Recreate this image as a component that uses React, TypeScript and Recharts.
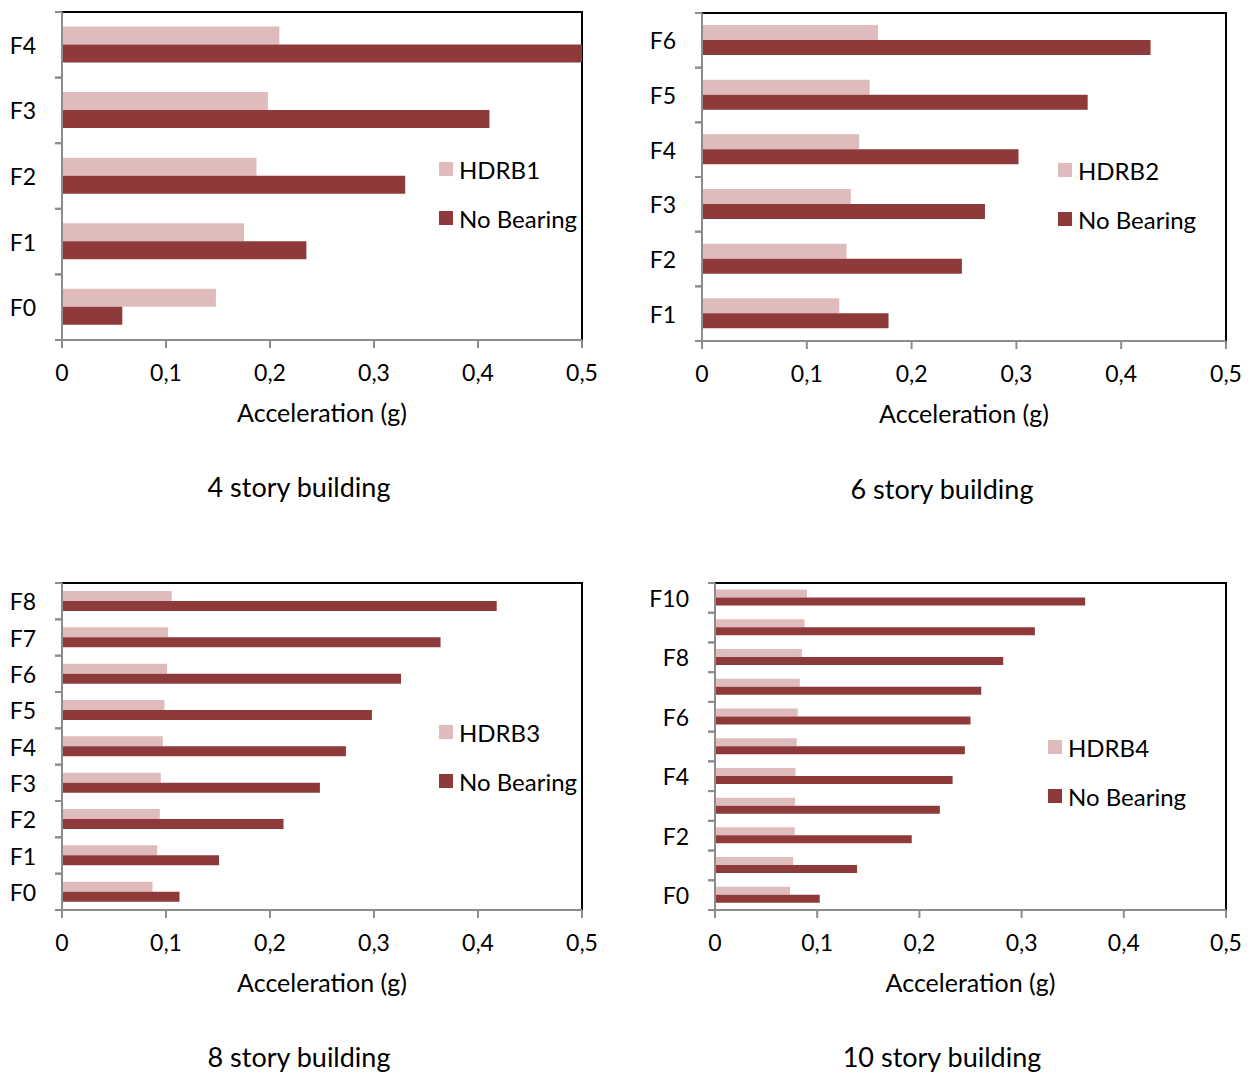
import { BarChart, Bar, XAxis, YAxis, Legend, ReferenceArea } from 'recharts'

const FONT = 'Lato, "DejaVu Sans", sans-serif'
const TICK_SIZE = 23
const TITLE_SIZE = 25
const LEGEND_SIZE = 24
const CAPTION_SIZE = 27
const PINK = '#E0BBBB'
const BROWN = '#8E3A3A'
const AXIS_GREY = '#8C8C8C'

const xTicks = [0, 0.1, 0.2, 0.3, 0.4, 0.5]

// 4 story building
const floors4 = ['F0', 'F1', 'F2', 'F3', 'F4']
const hdrb1 = [0.148, 0.175, 0.187, 0.198, 0.209]
const noBearing4 = [0.058, 0.235, 0.33, 0.411, 0.5]

// 6 story building
const floors6 = ['F1', 'F2', 'F3', 'F4', 'F5', 'F6']
const hdrb2 = [0.131, 0.138, 0.142, 0.15, 0.16, 0.168]
const noBearing6 = [0.178, 0.248, 0.27, 0.302, 0.368, 0.428]

// 8 story building
const floors8 = ['F0', 'F1', 'F2', 'F3', 'F4', 'F5', 'F6', 'F7', 'F8']
const hdrb3 = [0.087, 0.0915, 0.094, 0.095, 0.097, 0.0985, 0.101, 0.102, 0.1055]
const noBearing8 = [0.113, 0.151, 0.213, 0.248, 0.273, 0.298, 0.326, 0.364, 0.418]

// 10 story building
const floors10 = ['F0', 'F1', 'F2', 'F3', 'F4', 'F5', 'F6', 'F7', 'F8', 'F9', 'F10']
const hdrb4 = [0.0735, 0.0765, 0.078, 0.0784, 0.0788, 0.08, 0.081, 0.083, 0.085, 0.0876, 0.09]
const noBearing10 = [0.1025, 0.139, 0.1925, 0.22, 0.2325, 0.2445, 0.25, 0.2605, 0.282, 0.313, 0.3622]

// floor label plus short tick marks on both band edges
function FloorTick(props: any) {
  const { x, y, payload, index, band, every } = props
  const half = band / 2
  return (
    <g>
      <line x1={x - 7} x2={x} y1={y - half} y2={y - half} stroke={AXIS_GREY} strokeWidth={2} />
      <line x1={x - 7} x2={x} y1={y + half} y2={y + half} stroke={AXIS_GREY} strokeWidth={2} />
      {index % every === 0 && (
        <text x={x - 26} y={y} textAnchor="end" dominantBaseline="central" fontSize={TICK_SIZE} fill="#000">
          {payload.value}
        </text>
      )}
    </g>
  )
}

function LegendBox({ payload }: any) {
  return (
    <div>
      {(payload ?? []).map((entry: any) => (
        <div
          key={entry.value}
          style={{ display: 'flex', alignItems: 'center', height: 24, marginBottom: 25, fontSize: LEGEND_SIZE, color: '#000', fontFamily: FONT, whiteSpace: 'nowrap' }}
        >
          <span style={{ display: 'inline-block', width: 14, height: 14, background: entry.color, marginRight: 6 }} />
          {entry.value}
        </div>
      ))}
    </div>
  )
}

interface PanelProps {
  floors: string[]
  isolated: number[]
  bare: number[]
  bearing: string
  caption: string
  plot: { left: number; top: number; right: number; bottom: number }
  axisWidth: number
  labelEvery?: number
  legend: { x: number; y: number }
  captionAt: { x: number; y: number }
}

function Panel(p: PanelProps) {
  const rows = p.floors.map((floor, i) => ({ floor, isolated: p.isolated[i], bare: p.bare[i] }))
  const plotW = p.plot.right - p.plot.left
  const plotH = p.plot.bottom - p.plot.top
  const chartLeft = p.plot.left - p.axisWidth
  const chartTop = p.plot.top - 12
  const width = p.axisWidth + plotW + 20
  const height = 12 + plotH + 90
  const band = plotH / p.floors.length

  return (
    <>
      <div style={{ position: 'absolute', left: chartLeft, top: chartTop }}>
        <BarChart
          layout="vertical"
          width={width}
          height={height}
          data={rows}
          margin={{ top: 12, right: 20, bottom: 0, left: 0 }}
          barCategoryGap="22%"
          barGap={0}
        >
          <ReferenceArea x1={0} x2={0.5} fill="none" stroke="#000" strokeWidth={2} />
          <XAxis
            type="number"
            domain={[0, 0.5]}
            ticks={xTicks}
            height={90}
            axisLine={{ stroke: AXIS_GREY, strokeWidth: 2 }}
            tickLine={{ stroke: AXIS_GREY, strokeWidth: 2 }}
            tickSize={8}
            tickMargin={17}
            tick={{ fill: '#000', fontSize: TICK_SIZE }}
            tickFormatter={(v: number) => String(v).replace('.', ',')}
            label={{ value: 'Acceleration (g)', position: 'insideTop', offset: 64, fill: '#000', fontSize: TITLE_SIZE }}
          />
          <YAxis
            type="category"
            dataKey="floor"
            reversed
            width={p.axisWidth}
            interval={0}
            axisLine={{ stroke: AXIS_GREY, strokeWidth: 2 }}
            tickLine={false}
            tickSize={0}
            tickMargin={0}
            tick={(t: any) => <FloorTick {...t} band={band} every={p.labelEvery ?? 1} />}
          />
          <Legend
            layout="vertical"
            align="center"
            verticalAlign="middle"
            wrapperStyle={{ left: p.legend.x - chartLeft, top: p.legend.y - 12 - chartTop, width: 'auto' }}
            content={<LegendBox />}
          />
          <Bar dataKey="isolated" name={p.bearing} fill={PINK} isAnimationActive={false} />
          <Bar dataKey="bare" name="No Bearing" fill={BROWN} isAnimationActive={false} />
        </BarChart>
      </div>
      <div
        style={{
          position: 'absolute',
          left: p.captionAt.x - 200,
          width: 400,
          top: p.captionAt.y - 17,
          lineHeight: '34px',
          textAlign: 'center',
          fontSize: CAPTION_SIZE,
          color: '#000',
        }}
      >
        {p.caption}
      </div>
    </>
  )
}

export default function App() {
  return (
    <div
      style={{
        position: 'absolute',
        left: 0,
        top: 0,
        width: 1252,
        height: 1073,
        overflow: 'hidden',
        background: '#fff',
        fontFamily: FONT,
      }}
    >
      <Panel
        floors={floors4}
        isolated={hdrb1}
        bare={noBearing4}
        bearing="HDRB1"
        caption="4 story building"
        plot={{ left: 62, top: 12, right: 582, bottom: 340 }}
        axisWidth={62}
        legend={{ x: 439, y: 169 }}
        captionAt={{ x: 299, y: 487 }}
      />
      <Panel
        floors={floors6}
        isolated={hdrb2}
        bare={noBearing6}
        bearing="HDRB2"
        caption="6 story building"
        plot={{ left: 702, top: 13, right: 1226, bottom: 341 }}
        axisWidth={70}
        legend={{ x: 1058, y: 170 }}
        captionAt={{ x: 942, y: 489 }}
      />
      <Panel
        floors={floors8}
        isolated={hdrb3}
        bare={noBearing8}
        bearing="HDRB3"
        caption="8 story building"
        plot={{ left: 62, top: 583, right: 582, bottom: 910 }}
        axisWidth={62}
        legend={{ x: 439, y: 732 }}
        captionAt={{ x: 299, y: 1057 }}
      />
      <Panel
        floors={floors10}
        isolated={hdrb4}
        bare={noBearing10}
        bearing="HDRB4"
        caption="10 story building"
        plot={{ left: 715, top: 583, right: 1226, bottom: 910 }}
        axisWidth={75}
        labelEvery={2}
        legend={{ x: 1048, y: 747 }}
        captionAt={{ x: 942, y: 1057 }}
      />
    </div>
  )
}
